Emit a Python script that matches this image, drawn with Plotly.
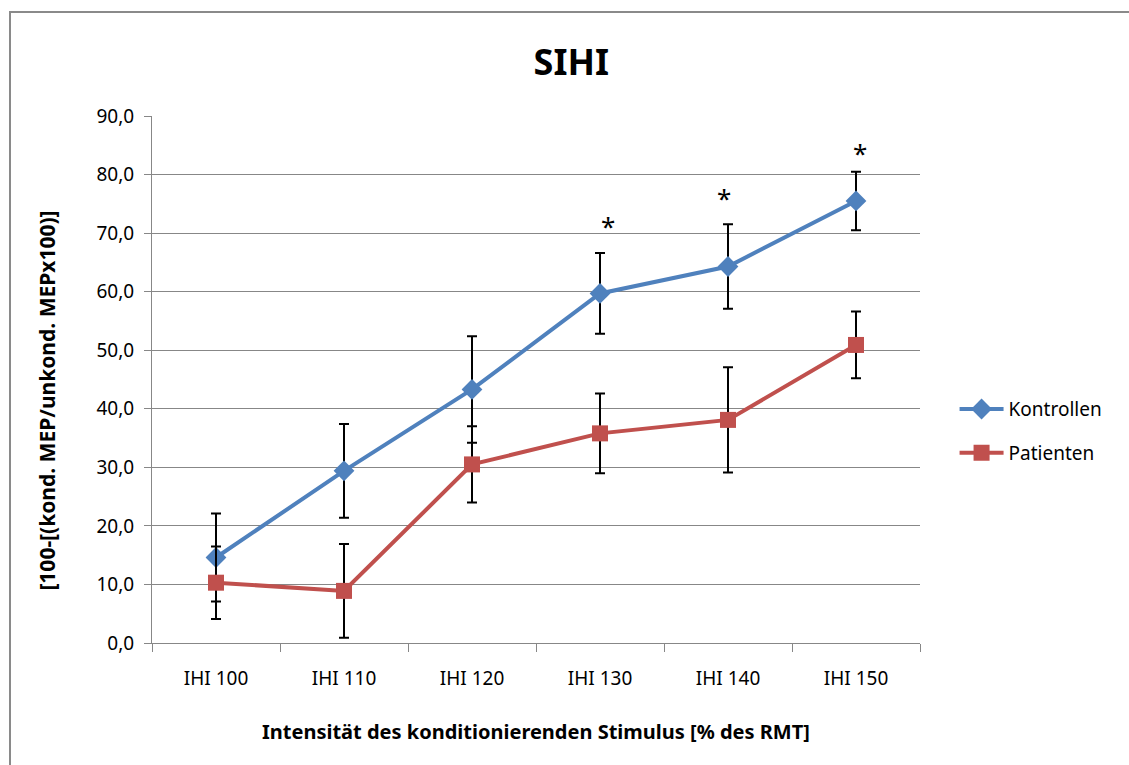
import plotly.graph_objects as go

# Conditioning stimulus intensity levels
categories = ["IHI 100", "IHI 110", "IHI 120", "IHI 130", "IHI 140", "IHI 150"]

# Mean inhibition and error per group
kontrollen = [14.6, 29.4, 43.3, 59.7, 64.3, 75.5]
kontrollen_err = [7.5, 8.0, 9.1, 6.9, 7.2, 5.0]
patienten = [10.3, 8.9, 30.5, 35.8, 38.1, 50.9]
patienten_err = [6.2, 8.0, 6.5, 6.8, 9.0, 5.7]

# Significance markers
sig_categories = ["IHI 130", "IHI 140", "IHI 150"]
sig_y = [71.2, 76.0, 83.7]
sig_xshift = [8, -4, 4]

FONT = "Noto Sans"
GRAY = "#878787"
BLUE = "#4F81BD"
RED = "#C0504D"

fig = go.Figure()

fig.add_trace(go.Scatter(
    x=categories, y=kontrollen, name="Kontrollen", mode="lines+markers",
    legendgroup="kontrollen",
    line=dict(color=BLUE, width=4),
    marker=dict(symbol="diamond", size=16, color=BLUE),
    error_y=dict(type="data", array=kontrollen_err, visible=True,
                 color="black", thickness=2, width=5),
))
fig.add_trace(go.Scatter(
    x=categories, y=patienten, name="Patienten", mode="lines+markers",
    legendgroup="patienten",
    line=dict(color=RED, width=4),
    marker=dict(symbol="square", size=16, color=RED),
    error_y=dict(type="data", array=patienten_err, visible=True,
                 color="black", thickness=2, width=5),
))

for c, yv, dx in zip(sig_categories, sig_y, sig_xshift):
    fig.add_annotation(x=c, y=yv, text="*", showarrow=False, xshift=dx,
                       font=dict(family=FONT, size=26, color="black"),
                       yanchor="middle")

# Axis titles
fig.add_annotation(xref="paper", yref="paper", x=0.5, y=-0.167,
                   text="<b>Intensität des konditionierenden Stimulus [% des RMT]</b>",
                   showarrow=False, yanchor="middle",
                   font=dict(family=FONT, size=20, color="black"))
fig.add_annotation(xref="paper", yref="paper", x=-0.1367, y=0.46,
                   text="<b>[100-[(kond. MEP/unkond. MEPx100)]</b>",
                   showarrow=False, textangle=-90, xanchor="center",
                   yanchor="middle",
                   font=dict(family=FONT, size=21, color="black"))

# Outer chart border
fig.add_shape(type="rect", xref="paper", yref="paper",
              x0=-0.1849, x1=1.6, y0=-0.6, y1=1.1973,
              line=dict(color="#8a8a8a", width=2), layer="below")

fig.update_layout(
    width=1129, height=765,
    margin=dict(l=152, r=209, t=116, b=122),
    paper_bgcolor="white", plot_bgcolor="white",
    separators=",.",
    font=dict(family=FONT, color="black"),
    title=dict(text="<b>SIHI</b>", x=0.506, y=1 - 62 / 765,
               xref="container", yref="container",
               xanchor="center", yanchor="middle",
               font=dict(family=FONT, size=36, color="black")),
    showlegend=True,
    legend=dict(x=1.045, y=0.402, xanchor="left", yanchor="middle",
                font=dict(family=FONT, size=19, color="black"),
                tracegroupgap=16, itemwidth=44, bgcolor="rgba(0,0,0,0)"),
    xaxis=dict(
        type="category", range=[-0.5, 5.5],
        showline=True, linecolor=GRAY, linewidth=1,
        ticks="outside", tickson="boundaries", ticklen=8, tickcolor=GRAY,
        showgrid=False, ticklabelstandoff=18,
        tickfont=dict(family=FONT, size=19, color="black"),
    ),
    yaxis=dict(
        range=[0, 90], dtick=10, tickformat=".1f",
        showline=True, linecolor=GRAY, linewidth=1,
        ticks="outside", ticklen=7, tickcolor=GRAY,
        showgrid=True, gridcolor=GRAY, gridwidth=1,
        zeroline=False, ticklabelstandoff=6,
        tickfont=dict(family=FONT, size=19, color="black"),
    ),
)

fig.write_html("out.html")
